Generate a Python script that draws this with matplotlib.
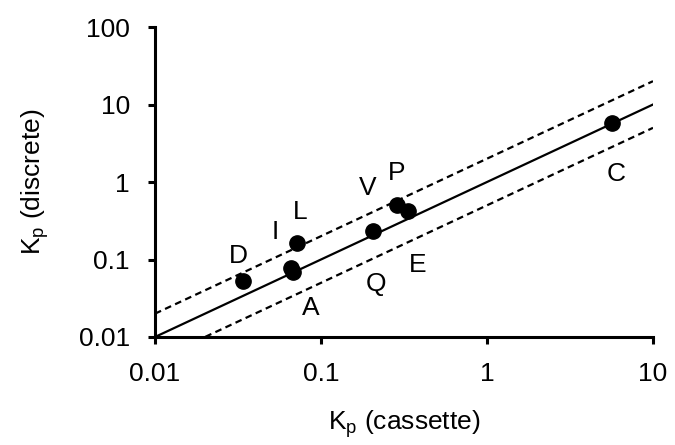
import matplotlib

matplotlib.use("Agg")
import matplotlib.pyplot as plt
import numpy as np

plt.rcParams["font.family"] = ["Liberation Sans", "DejaVu Sans"]

# measured partition coefficients, cassette vs discrete dosing
kp_cassette = [0.034, 0.072, 0.066, 0.068, 0.206, 0.287, 0.334, 5.66]
kp_discrete = [0.053, 0.164, 0.078, 0.070, 0.235, 0.51, 0.427, 5.69]

# compound labels and where they sit (data coordinates)
label_text = ["D", "I", "L", "V", "P", "A", "Q", "E", "C"]
label_x = [0.0319, 0.0532, 0.0752, 0.192, 0.287, 0.0863, 0.215, 0.384, 6.0]
label_y = [0.112, 0.228, 0.414, 0.847, 1.29, 0.0237, 0.0485, 0.0853, 1.25]

fs = 19

fig = plt.figure(figsize=(6.75, 4.45), dpi=100)
ax = fig.add_axes([0.2296, 0.2427, 0.7378, 0.6966])

line_x = np.array([0.01, 10.0])
ax.plot(line_x, line_x, color="black", lw=1.6)
ax.plot(line_x, 2 * line_x, color="black", lw=1.6, ls=(0, (3, 2)))
ax.plot(line_x, 0.5 * line_x, color="black", lw=1.6, ls=(0, (3, 2)))

ax.plot(kp_cassette, kp_discrete, "o", color="black", ms=11, clip_on=False)

for text, x, y in zip(label_text, label_x, label_y):
    ax.text(x, y, text, fontsize=fs, ha="center", va="center")

ax.set_xscale("log")
ax.set_yscale("log")
ax.set_xlim(0.01, 10)
ax.set_ylim(0.01, 100)
ax.set_xticks([0.01, 0.1, 1, 10])
ax.set_xticklabels(["0.01", "0.1", "1", "10"])
ax.set_yticks([0.01, 0.1, 1, 10, 100])
ax.set_yticklabels(["0.01", "0.1", "1", "10", "100"])
ax.minorticks_off()

for side in ("top", "right"):
    ax.spines[side].set_visible(False)
for side in ("left", "bottom"):
    ax.spines[side].set_linewidth(2.2)
ax.tick_params(axis="both", length=5, width=2.2, labelsize=fs, direction="out")
ax.tick_params(axis="x", pad=13)
ax.tick_params(axis="y", pad=13)

ax.set_xlabel(r"K$_\mathregular{p}$ (cassette)", fontsize=fs, labelpad=16)
ax.set_ylabel(r"K$_\mathregular{p}$ (discrete)", fontsize=fs, labelpad=20)

fig.savefig("out.png")
